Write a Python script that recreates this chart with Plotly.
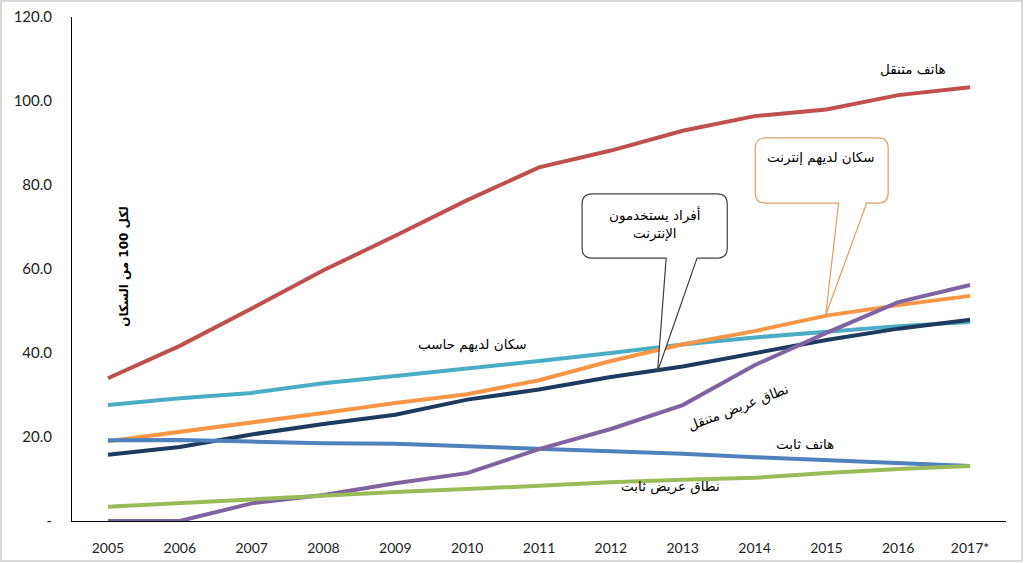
import plotly.graph_objects as go

years = ["2005", "2006", "2007", "2008", "2009", "2010", "2011", "2012",
         "2013", "2014", "2015", "2016", "2017*"]

mobile_phone = [34.0, 41.7, 50.6, 59.7, 67.9, 76.4, 84.2, 88.2, 92.9, 96.4, 98.0, 101.4, 103.3]
households_computer = [27.6, 29.2, 30.5, 32.8, 34.5, 36.2, 38.1, 40.0, 42.0, 43.7, 45.0, 46.4, 47.4]
households_internet = [19.0, 21.2, 23.6, 25.7, 28.1, 30.2, 33.5, 38.1, 42.1, 45.2, 48.9, 51.4, 53.6]
individuals_internet = [15.8, 17.6, 20.6, 23.1, 25.3, 28.9, 31.3, 34.3, 36.8, 39.9, 43.1, 45.8, 47.9]
fixed_phone = [19.2, 19.3, 18.9, 18.5, 18.4, 17.8, 17.3, 16.6, 16.0, 15.2, 14.5, 13.6, 13.1]
mobile_broadband = [0.0, 0.0, 4.2, 6.2, 9.0, 11.4, 17.1, 21.9, 27.6, 37.1, 44.8, 52.1, 56.2]
fixed_broadband = [3.4, 4.3, 5.2, 6.1, 6.9, 7.6, 8.5, 9.2, 9.8, 10.3, 11.4, 12.4, 13.1]

series = [
    ("هاتف متنقل", mobile_phone, "#C0504D"),
    ("سكان لديهم حاسب", households_computer, "#4BACC6"),
    ("سكان لديهم إنترنت", households_internet, "#F79646"),
    ("أفراد يستخدمون الإنترنت", individuals_internet, "#1F3A5F"),
    ("هاتف ثابت", fixed_phone, "#4F81BD"),
    ("نطاق عريض متنقل", mobile_broadband, "#8064A2"),
    ("نطاق عريض ثابت", fixed_broadband, "#9BBB59"),
]

y_ticks = [0, 20, 40, 60, 80, 100, 120]
y_tick_text = ["-", "20.0", "40.0", "60.0", "80.0", "100.0", "120.0"]

fig = go.Figure()
for name, vals, col in series:
    fig.add_trace(go.Scatter(x=years, y=vals, mode="lines", name=name,
                             line=dict(color=col, width=4)))

AR = "DejaVu Sans, Noto Sans, sans-serif"

def label(x, y, text, angle=0, size=13.5, bold=False):
    t = f"<b>{text}</b>" if bold else text
    fig.add_annotation(x=x, y=y, xref="x", yref="y", text=t, showarrow=False,
                       textangle=angle, font=dict(family=AR, size=size, color="#000000"))

label(11.2, 107.6, "هاتف متنقل")
label(5.07, 42.1, "سكان لديهم حاسب")
label(8.77, 27.1, "نطاق عريض متنقل", angle=-21)
label(9.70, 18.3, "هاتف ثابت")
label(7.83, 8.1, "نطاق عريض ثابت")
label(0.22, 60.7, "لكل 100 من السكان", angle=-90, size=12, bold=True)


def callout(x0, x1, y0, y1, b1, b2, tx, ty, color):
    # rounded box (x in category index, y in data units) with a pointer
    rx, ry = 0.14, 2.4
    path = (f"M {x0+rx},{y1} L {x1-rx},{y1} Q {x1},{y1} {x1},{y1-ry} "
            f"L {x1},{y0+ry} Q {x1},{y0} {x1-rx},{y0} "
            f"L {b2},{y0} L {tx},{ty} L {b1},{y0} "
            f"L {x0+rx},{y0} Q {x0},{y0} {x0},{y0+ry} "
            f"L {x0},{y1-ry} Q {x0},{y1} {x0+rx},{y1} Z")
    fig.add_shape(type="path", path=path, xref="x", yref="y",
                  line=dict(color=color, width=1.2), fillcolor="white", layer="above")

callout(9.01, 10.86, 75.7, 91.2, 10.17, 10.56, 9.99, 49.0, "#D9A066")
callout(6.60, 8.62, 62.6, 77.9, 7.77, 8.20, 7.65, 35.6, "#404040")

fig.add_annotation(x=9.93, y=86.6, xref="x", yref="y", text="سكان لديهم إنترنت",
                   showarrow=False, font=dict(family=AR, size=13.5, color="#000"))
fig.add_annotation(x=7.61, y=70.8, xref="x", yref="y", text="أفراد يستخدمون<br>الإنترنت",
                   showarrow=False, font=dict(family=AR, size=13.5, color="#000"))

# outer image frame
fig.add_shape(type="rect", xref="paper", yref="paper",
              x0=(1 - 72) / 934, x1=(1022 - 72) / 934,
              y0=(521 - 561) / 504, y1=(521 - 1) / 504,
              line=dict(color="#D9D9D9", width=2))

fig.update_layout(
    width=1024, height=563,
    margin=dict(l=72, r=18, t=17, b=42),
    paper_bgcolor="white", plot_bgcolor="white",
    showlegend=False,
    font=dict(family="Lato, Open Sans, sans-serif", size=14, color="#222"),
)
fig.update_xaxes(type="category", range=[-0.5, 12.5], showgrid=False,
                 showline=True, linecolor="#000", linewidth=1, automargin=False,
                 ticks="", ticklabelstandoff=14,
                 tickfont=dict(family="Lato, sans-serif", size=14, color="#222"))
fig.update_yaxes(range=[0, 120], showgrid=False, zeroline=False,
                 showline=True, linecolor="#000", linewidth=1, automargin=False,
                 tickvals=y_ticks, ticktext=y_tick_text, ticks="",
                 ticklabelstandoff=16,
                 tickfont=dict(family="Lato, sans-serif", size=15, color="#222"))

fig.write_html("out.html", config={"displayModeBar": False},
               post_script="document.body.style.margin='0';document.body.style.overflow='hidden';")
